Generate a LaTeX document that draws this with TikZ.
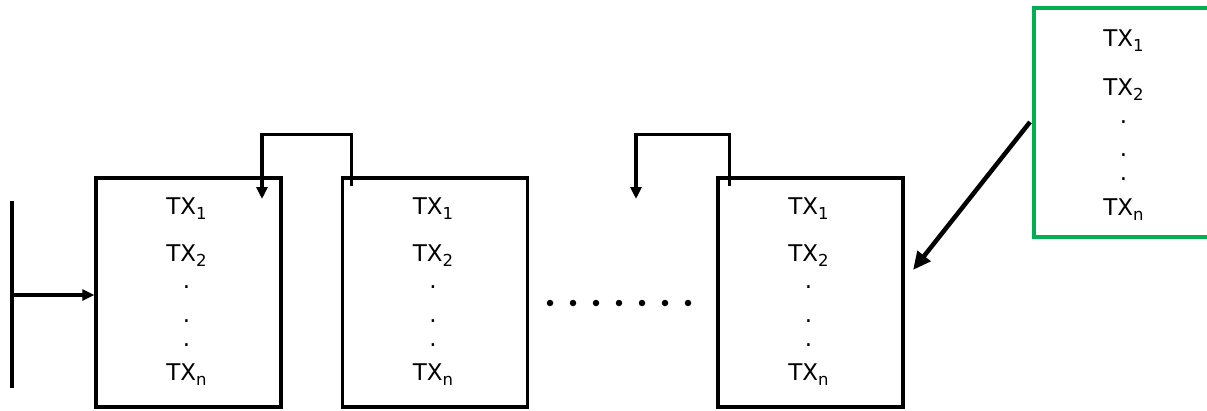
\documentclass[tikz,border=0pt]{standalone}
\usepackage{fontspec}
\setmainfont{DejaVu Sans}
\usetikzlibrary{arrows.meta,calc}
\definecolor{gbox}{HTML}{00B050}
\newcommand{\txsub}[1]{\raisebox{-5pt}{\fontsize{16.5}{16.5}\selectfont #1}}
\newcommand{\fillbox}[1]{%
  \node[lbl] (#1-1) at ($(#1.north)+(-2,38)$) {TX\txsub{1}};
  \node[lbl] (#1-2) at ($(#1.north)+(-2,85)$) {TX\txsub{2}};
  \node[vdot] (#1-d1) at ($(#1.north)+(-2,112)$) {.};
  \node[vdot] (#1-d2) at ($(#1.north)+(-2,146)$) {.};
  \node[vdot] (#1-d3) at ($(#1.north)+(-2,170)$) {.};
  \node[lbl] (#1-n) at ($(#1.north)+(-2,204)$) {TX\txsub{n}};
}
\begin{document}
\begin{tikzpicture}[x=1pt,y=-1pt,line width=3.4pt,
  blk/.style={draw=black,line width=3.4pt,minimum width=185pt,minimum height=229pt,inner sep=0pt},
  gblk/.style={blk,draw=gbox},
  lbl/.style={font=\fontsize{23}{23}\selectfont,inner sep=0pt,anchor=base},
  vdot/.style={font=\fontsize{23}{23}\selectfont,inner sep=0pt,anchor=base},
  bigdot/.style={circle,fill=black,minimum size=6.5pt,inner sep=0pt},
  flow/.style={-{Triangle[length=12pt,width=11pt]},line width=3.2pt},
  bigflow/.style={-{Triangle[length=18pt,width=16pt]},line width=4.5pt}]
\useasboundingbox (0,0) rectangle (1207,410);
\begin{scope}
\clip (0,0) rectangle (1207,410);
\node[blk] (b1) at (188.5,292.5) {};
\node[blk] (b2) at (435,292.5) {};
\node[blk] (b3) at (810.5,292.5) {};
\node[gblk] (g) at (1126.5,122.5) {};
\fillbox{b1}
\fillbox{b2}
\fillbox{b3}
\node[lbl] (g-1) at ($(g.north)+(-3,40)$) {TX\txsub{1}};
\node[lbl] (g-2) at ($(g.north)+(-3,89)$) {TX\txsub{2}};
\node[vdot] (g-d1) at ($(g.north)+(-3,117)$) {.};
\node[vdot] (g-d2) at ($(g.north)+(-3,150)$) {.};
\node[vdot] (g-d3) at ($(g.north)+(-3,174)$) {.};
\node[lbl] (g-n) at ($(g.north)+(-3,209)$) {TX\txsub{n}};
\end{scope}
% left bar and input arrow
\coordinate (vt) at (12,201);
\coordinate (vb) at (12,388);
\coordinate (vin) at (12,295);
\draw (vt) -- (vb);
\draw[flow] (vin) -- (vin -| b1.west);
% feedback arrows
\coordinate (a1s) at ($(b2.north west)+(11,10)$);
\coordinate (a1e) at (262,199);
\draw[flow] (a1s) -- ++(0,-52) -| (a1e);
\coordinate (a2s) at ($(b3.north west)+(13,10)$);
\coordinate (a2e) at (636,199);
\draw[flow] (a2s) -- ++(0,-52) -| (a2e);
% dots between boxes
\foreach \i in {0,...,6} {
  \node[bigdot] (d\i) at (550+23*\i,303) {};
}
% diagonal arrow from green box
\coordinate (ds) at (1030,122);
\coordinate (de) at (913,270);
\draw[bigflow] (ds) -- (de);
\end{tikzpicture}
\end{document}
